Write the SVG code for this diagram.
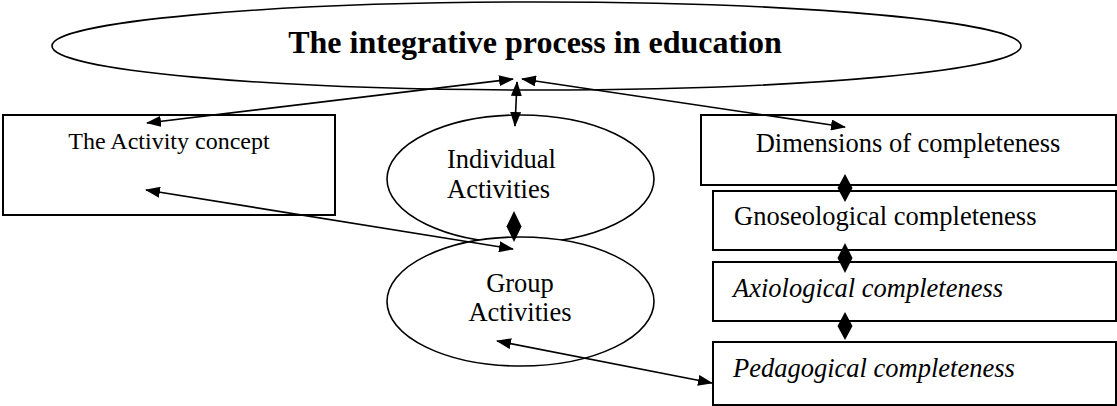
<svg xmlns="http://www.w3.org/2000/svg" width="1117" height="406" viewBox="0 0 1117 406">
  <style>
    .shape { fill: #fff; stroke: #000; stroke-width: 1.6; }
    .box { fill: #fff; stroke: #000; stroke-width: 2; }
    .link { fill: none; stroke: #000; stroke-width: 1.6; marker-start: url(#head); marker-end: url(#head); }
    .diamond { fill: #000; stroke: none; }
  </style>
  <defs>
    <marker id="head" viewBox="0 0 15 11" refX="14" refY="5.5" markerWidth="15" markerHeight="11" markerUnits="userSpaceOnUse" orient="auto-start-reverse">
      <path d="M0,0 L15,5.5 L0,11 Z" fill="#000"/>
    </marker>
  </defs>

  <g font-family="Liberation Serif, Times New Roman, serif" font-size="26.5" fill="#000">
    <!-- central process -->
    <g id="process">
      <ellipse class="shape" cx="536.5" cy="46" rx="484.5" ry="44"/>
      <text x="535" y="53" text-anchor="middle" font-size="32" font-weight="bold">The integrative process in education</text>
    </g>

    <!-- left column -->
    <g id="activity-concept">
      <rect class="box" x="3" y="115" width="332" height="100"/>
      <text x="169" y="149" text-anchor="middle" font-size="24">The Activity concept</text>
    </g>

    <!-- middle column -->
    <g id="individual-activities">
      <ellipse class="shape" cx="520.5" cy="179" rx="133.5" ry="64"/>
      <text x="447" y="168">Individual</text>
      <text x="447" y="198">Activities</text>
    </g>
    <g id="group-activities">
      <ellipse class="shape" cx="520.5" cy="301.5" rx="133.5" ry="64.5"/>
      <text x="520" y="292" text-anchor="middle">Group</text>
      <text x="520" y="321" text-anchor="middle">Activities</text>
    </g>

    <!-- right column -->
    <g id="dimensions">
      <rect class="box" x="701" y="115" width="415" height="70"/>
      <text x="908" y="152" text-anchor="middle">Dimensions of completeness</text>
    </g>
    <g id="gnoseological">
      <rect class="box" x="713" y="191" width="403" height="59"/>
      <text x="734" y="225">Gnoseological completeness</text>
    </g>
    <g id="axiological">
      <rect class="box" x="713" y="262" width="403" height="59"/>
      <text x="733" y="297" font-style="italic">Axiological completeness</text>
    </g>
    <g id="pedagogical">
      <rect class="box" x="713" y="342" width="403" height="63"/>
      <text x="733" y="377" font-style="italic">Pedagogical completeness</text>
    </g>
  </g>

  <!-- connectors -->
  <g id="connectors">
    <path class="link" d="M147,123 L513,79"/>
    <path class="link" d="M845,127 L522,79"/>
    <path class="link" d="M515,126 L517,82"/>
    <path class="link" d="M146,190 L513,249"/>
    <path class="link" d="M497,341 L712,383"/>
    <path class="diamond" d="M514,211 L521.5,226.5 L514,242 L506.5,226.5 Z"/>
    <path class="diamond" d="M845,174 L852.5,188 L845,202 L837.5,188 Z"/>
    <path class="diamond" d="M845,243 L852.5,258 L845,273 L837.5,258 Z"/>
    <path class="diamond" d="M845,312 L852.5,326 L845,340 L837.5,326 Z"/>
  </g>
</svg>
